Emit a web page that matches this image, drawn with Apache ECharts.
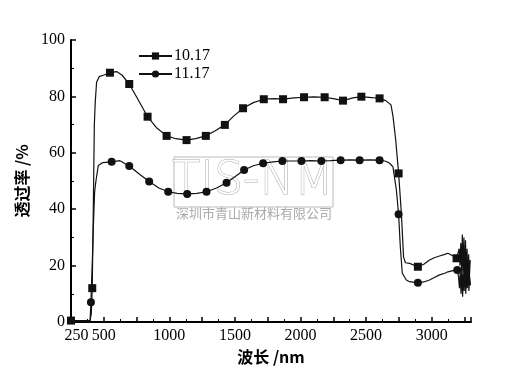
<!DOCTYPE html>
<html>
<head>
<meta charset="utf-8">
<script src="https://cdn.jsdelivr.net/npm/echarts@6/dist/echarts.min.js"></script>
<style>
  html, body { margin: 0; padding: 0; background: #fff; }
  #chart { width: 507px; height: 375px; }
</style>
</head>
<body>
<div id="chart"></div>
<script>
// 10.17 sample
const wlA = [250, 395, 405, 412, 420, 428, 435, 445, 465, 496, 547, 598, 640, 694, 760, 834, 900, 979, 1050, 1131,
  1200, 1278, 1350, 1423, 1490, 1562, 1640, 1720, 1800, 1867, 1950, 2027, 2100, 2184, 2250, 2324, 2400, 2464, 2540, 2603,
  2650, 2690, 2705, 2725, 2748, 2769, 2786, 2800, 2832, 2895, 2940, 2984, 3020, 3060, 3100, 3124, 3160, 3190,
  3200, 3210, 3216, 3222, 3228, 3234, 3240, 3246, 3252, 3258, 3264, 3270, 3276, 3282, 3288, 3294]
const tA = [0.5, 0.5, 3, 12, 40, 70, 78, 85, 87, 87.5, 88.4, 88.8, 87.5, 84.4, 79, 72.8, 69, 66, 65, 64.5,
  65, 66, 67.8, 69.9, 73, 75.8, 77.8, 79, 79.2, 79, 79.5, 79.7, 79.8, 79.7, 79.2, 78.5, 79.5, 79.9, 79.6, 79.3,
  78.5, 77, 73, 65, 52.7, 38.6, 23, 21, 20.8, 19.6, 20.5, 22, 22.8, 23.4, 24, 24.4, 23.5, 22.6,
  23, 26, 20, 28, 18, 31, 16, 30, 14, 29, 15, 26, 13, 24, 16, 22]
const markA = [250, 412, 547, 694, 834, 979, 1131, 1278, 1423, 1562, 1720, 1867, 2027, 2184, 2324, 2464, 2603, 2748, 2895, 3190]

// 11.17 sample
const wlB = [250, 395, 402, 415, 420, 430, 440, 458, 490, 560, 623, 694, 770, 846, 920, 991, 1060, 1136, 1210, 1283,
  1360, 1436, 1500, 1570, 1640, 1715, 1790, 1862, 1940, 2007, 2080, 2159, 2230, 2306, 2380, 2451, 2530, 2603,
  2650, 2680, 2705, 2731, 2748, 2761, 2776, 2807, 2832, 2895, 2940, 2984, 3020, 3060, 3100, 3124, 3170, 3195,
  3205, 3212, 3218, 3224, 3230, 3236, 3242, 3248, 3254, 3260, 3266, 3272, 3278, 3284, 3290, 3296]
const tB = [0, 0, 7, 25, 33, 46, 50, 55.5, 56.5, 56.8, 57.2, 55.3, 52.5, 49.8, 47.5, 46.2, 45.6, 45.4, 45.6, 46.2,
  47.5, 49.4, 51.5, 53.9, 55.4, 56.3, 56.8, 57.1, 57.1, 57.1, 57.2, 57.1, 57.2, 57.4, 57.5, 57.4, 57.5, 57.4,
  57, 56.3, 55, 46.8, 38.2, 26.7, 17.3, 14.9, 14.3, 13.9, 14.2, 14.9, 15.8, 16.7, 17.3, 17.8, 18.3, 18.4,
  16, 12, 18, 10, 19, 9, 17, 11, 20, 10, 18, 12, 19, 11, 16, 13]
const markB = [402, 560, 694, 846, 991, 1136, 1283, 1436, 1570, 1715, 1862, 2007, 2159, 2306, 2451, 2603, 2748, 2895, 3195]

const xLabels = [250, 500, 1000, 1500, 2000, 2500, 3000]
const seriesNames = ['10.17', '11.17']

function buildData(wl, t, marks, sym) {
  return wl.map(function (x, i) {
    return { value: [x, t[i]], symbol: marks.indexOf(x) >= 0 ? sym : 'none' }
  })
}

const serif = '"Liberation Serif", "DejaVu Serif", serif'
const cjk = '"Noto Sans CJK SC", sans-serif'

var myChart = echarts.init(document.getElementById('chart'))
var option = {
  animation: false,
  backgroundColor: '#fff',
  grid: { left: 71, right: 36, top: 40, bottom: 53 },
  legend: {
    orient: 'vertical',
    left: 133,
    top: 43,
    itemWidth: 33,
    itemHeight: 9,
    itemGap: 2,
    data: seriesNames,
    textStyle: { fontFamily: serif, fontSize: 16, color: '#000', lineHeight: 16, padding: [0, 0, 0, -3] }
  },
  graphic: [
    {
      type: 'rect', z: -1,
      shape: { x: 174, y: 157, width: 159, height: 50 },
      style: { fill: 'none', stroke: '#bbb', lineWidth: 1 }
    },
    {
      type: 'text', z: -1, x: 253, y: 182,
      style: {
        text: 'TIS-NM', fontFamily: '"DejaVu Sans", sans-serif', fontSize: 46, fontWeight: 'lighter',
        fill: '#fff', stroke: '#aaa', lineWidth: 1, align: 'center', verticalAlign: 'middle'
      }
    },
    {
      type: 'text', z: -1, x: 254, y: 213,
      style: {
        text: '深圳市青山新材料有限公司', fontFamily: cjk, fontSize: 13,
        fill: '#aaa', align: 'center', verticalAlign: 'middle'
      }
    }
  ],
  xAxis: {
    type: 'value',
    min: 250,
    max: 3300,
    interval: 250,
    name: '波长 /nm',
    nameLocation: 'middle',
    nameGap: 26,
    nameTextStyle: { fontFamily: cjk, fontSize: 16, fontWeight: 'bold', color: '#000' },
    axisLine: { lineStyle: { color: '#000', width: 2 } },
    axisTick: { inside: true, length: 5, lineStyle: { color: '#000', width: 1.5 } },
    minorTick: { show: true, splitNumber: 2, length: 3, lineStyle: { color: '#000', width: 1 } },
    splitLine: { show: false },
    axisLabel: {
      margin: 6,
      showMinLabel: true,
      hideOverlap: false,
      fontFamily: serif,
      fontSize: 16,
      color: '#000',
      formatter: function (v) {
        if (v === 250) return '{a|250}'
        return xLabels.indexOf(v) >= 0 ? String(v) : ''
      },
      rich: { a: { fontFamily: serif, fontSize: 16, color: '#000', padding: [0, 0, 0, 11] } }
    }
  },
  yAxis: {
    type: 'value',
    min: 0,
    max: 100,
    interval: 20,
    name: '透过率 /%',
    nameLocation: 'middle',
    nameGap: 30,
    nameTextStyle: { fontFamily: cjk, fontSize: 16, fontWeight: 'bold', color: '#000' },
    axisLine: { show: true, lineStyle: { color: '#000', width: 2 } },
    axisTick: { inside: true, length: 5, lineStyle: { color: '#000', width: 1.5 } },
    minorTick: { show: true, splitNumber: 2, length: 3, lineStyle: { color: '#000', width: 1 } },
    splitLine: { show: false },
    axisLabel: { margin: 6, showMinLabel: true, fontFamily: serif, fontSize: 16, color: '#000' }
  },
  series: [
    {
      name: seriesNames[0],
      type: 'line',
      symbol: 'rect',
      symbolSize: 8,
      showSymbol: true,
      color: '#111',
      lineStyle: { color: '#111', width: 1.2 },
      itemStyle: { color: '#111' },
      data: buildData(wlA, tA, markA, 'rect')
    },
    {
      name: seriesNames[1],
      type: 'line',
      symbol: 'circle',
      symbolSize: 8,
      showSymbol: true,
      color: '#111',
      lineStyle: { color: '#111', width: 1.2 },
      itemStyle: { color: '#111' },
      data: buildData(wlB, tB, markB, 'circle')
    }
  ]
}
option && myChart.setOption(option)
</script>
</body>
</html>
